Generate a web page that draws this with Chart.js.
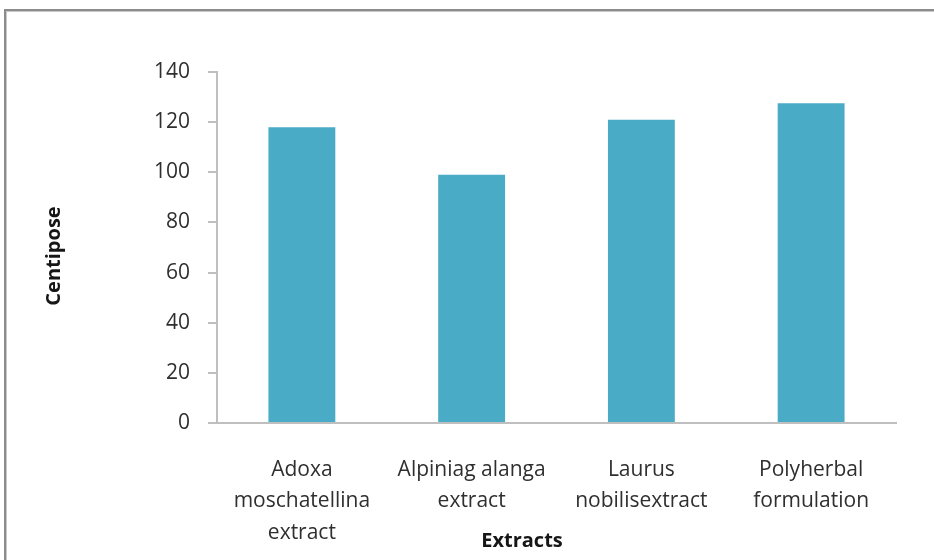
<!DOCTYPE html>
<html>
<head>
<meta charset="utf-8">
<script src="https://cdn.jsdelivr.net/npm/chart.js@4/dist/chart.umd.min.js"></script>
<style>
  html, body { margin: 0; padding: 0; background: #fff; }
  body { width: 934px; height: 560px; overflow: hidden; position: relative; }
  #frame {
    position: absolute; left: 4px; top: 9px; width: 1000px; height: 1000px;
    border-left: 2px solid #8c8c8c; border-top: 2px solid #8c8c8c;
    box-shadow: inset 1px 1px 0 #c8c8c8;
  }
  #wrap { position: absolute; left: 0; top: 0; width: 934px; height: 560px; }
</style>
</head>
<body>
<div id="frame"></div>
<div id="wrap"><canvas id="chart" width="934" height="560"></canvas></div>
<script>
// Viscosity of each extract
const categories = [
  ['Adoxa', 'moschatellina', 'extract'],
  ['Alpiniag alanga', 'extract'],
  ['Laurus', 'nobilisextract'],
  ['Polyherbal', 'formulation']
];
const viscosity = [118, 99, 121, 127.5];
const yTicks = [0, 20, 40, 60, 80, 100, 120, 140];
const yTitle = 'Centipose';
const xTitle = 'Extracts';

const FONT = '"Open Sans", "Liberation Sans", sans-serif';
const AXIS_GRAY = '#bfbfbf';
const TEXT = '#2f2f2f';

// Axis titles placed by hand beside the plot
const axisTitles = {
  id: 'axisTitles',
  afterDraw(chart) {
    const ctx = chart.ctx;
    ctx.save();
    ctx.fillStyle = '#161616';
    ctx.font = 'bold 20px ' + FONT;
    ctx.textAlign = 'center';
    ctx.textBaseline = 'alphabetic';
    ctx.fillText(xTitle, 522, 547);
    ctx.translate(60, 256);
    ctx.rotate(-Math.PI / 2);
    ctx.fillText(yTitle, 0, 0);
    ctx.restore();
  }
};

new Chart(document.getElementById('chart'), {
  type: 'bar',
  data: {
    labels: categories,
    datasets: [{
      data: viscosity,
      backgroundColor: '#4aabc6',
      borderWidth: 0,
      barPercentage: 0.394,
      categoryPercentage: 1
    }]
  },
  options: {
    responsive: false,
    animation: false,
    events: [],
    layout: { padding: { left: 0, top: 72, right: 38, bottom: 0 } },
    plugins: { legend: { display: false }, tooltip: { enabled: false } },
    scales: {
      x: {
        grid: { display: false },
        border: { display: true, color: AXIS_GRAY, width: 2 },
        ticks: {
          color: TEXT,
          font: { family: FONT, size: 21, lineHeight: 1.5 },
          padding: 23,
          maxRotation: 0,
          autoSkip: false
        },
        afterFit(scale) { scale.height = 560 - 423; }
      },
      y: {
        min: 0,
        max: 140,
        afterBuildTicks(scale) { scale.ticks = yTicks.map(v => ({ value: v })); },
        grid: {
          drawOnChartArea: false,
          drawTicks: true,
          tickLength: 9,
          color: AXIS_GRAY,
          lineWidth: 2
        },
        border: { display: true, color: AXIS_GRAY, width: 2 },
        ticks: {
          color: TEXT,
          font: { family: FONT, size: 21 },
          padding: 18
        },
        afterFit(scale) { scale.width = 217; }
      }
    }
  },
  plugins: [axisTitles]
});
</script>
</body>
</html>
